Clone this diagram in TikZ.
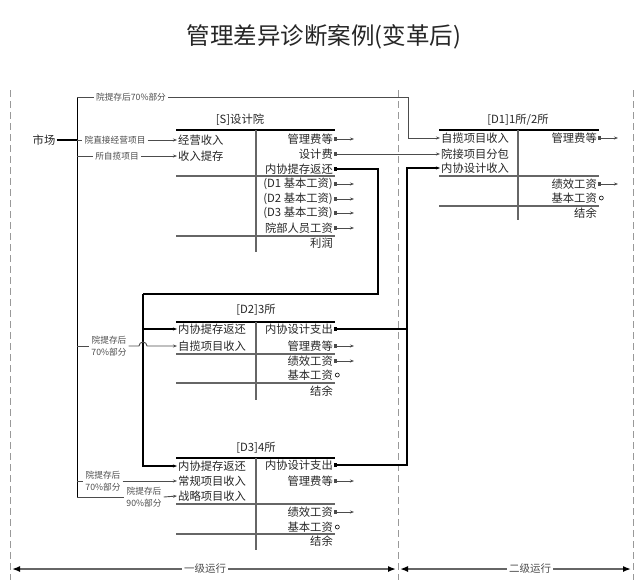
\documentclass[tikz,border=0pt]{standalone}
\usepackage{fontspec}
\setmainfont{Noto Sans CJK SC}
\usetikzlibrary{arrows.meta,positioning}

\begin{document}
\begin{tikzpicture}[x=1pt,y=-1pt,
    item/.style={font=\fontsize{11.3}{12}\selectfont, text=black!85, inner sep=1pt},
    lab/.style={font=\fontsize{8.7}{11.5}\selectfont, text=black!70, inner sep=2pt, align=center},
    toprule/.style={draw=black, line width=1.5pt},
    rule/.style={draw=black!60, line width=1.2pt},
    sep/.style={draw=black!40, line width=0.8pt, dash pattern=on 7pt off 4pt},
    link/.style={draw=black!70, line width=0.9pt},
    flow/.style={link, -{Stealth[length=4pt,width=3pt]}},
    outflow/.style={link, {Square[length=3pt,width=3.5pt]}-{Stealth[length=4pt,width=3pt]}},
    bus/.style={draw=black, line width=1.2pt},
    endmark/.style={circle, draw, inner sep=0pt, minimum size=4pt, line width=0.6pt},
    span/.style={draw=black!60, line width=1.5pt, {Latex[length=8pt,width=6pt,black]}-{Latex[length=8pt,width=6pt,black]}}]
    \useasboundingbox (0,0) rectangle (640,582);

    \node[font=\fontsize{23.5}{25}\selectfont, text=black!85] (title) at (324,37) {管理差异诊断案例(变革后)};

    % separators and levels
    \draw[sep] (10,90) -- (10,580);
    \draw[sep] (398,90) -- (398,580);
    \draw[sep] (633,90) -- (633,580);
    \draw[span] (12,569) -- (396,569);
    \draw[span] (400,569) -- (631,569);
    \node[lab, fill=white, font=\fontsize{10.5}{11}\selectfont] (lvlOne) at (205,569) {一级运行};
    \node[lab, fill=white, font=\fontsize{10.5}{11}\selectfont] (lvlTwo) at (530,569) {二级运行};

    % [S] box
    \node[item] (sTitle) at (240,120) {[S]设计院};
    \draw[toprule] (176,130) -- (335,130);
    \draw[rule] (176,176) -- (335,176);
    \draw[rule] (176,236) -- (335,236);
    \draw[rule] (256,130) -- (256,252);
    \node[item, anchor=west] (sIncome) at (177,140) {经营收入};
    \node[item, anchor=west] (sRetain) at (177,156) {收入提存};
    \node[item, anchor=east] (sFee) at (334,139) {管理费等};
    \node[item, anchor=east] (sDesign) at (334,154) {设计费};
    \node[item, anchor=east] (sReturn) at (334,169) {内协提存返还};
    \node[item, anchor=east] (sD1) at (334,184) {(D1 基本工资)};
    \node[item, anchor=east] (sD2) at (334,199) {(D2 基本工资)};
    \node[item, anchor=east] (sD3) at (334,213) {(D3 基本工资)};
    \node[item, anchor=east] (sStaff) at (334,228) {院部人员工资};
    \node[item, anchor=east] (sProfit) at (334,243) {利润};

    % [D1] box
    \node[item] (d1Title) at (518,120) {[D1]1所/2所};
    \draw[toprule] (439,130) -- (599,130);
    \draw[rule] (439,176) -- (599,176);
    \draw[rule] (439,206) -- (599,206);
    \draw[rule] (518,130) -- (518,220);
    \node[item, anchor=west] (d1Own) at (440,138) {自揽项目收入};
    \node[item, anchor=west] (d1Sub) at (440,154) {院接项目分包};
    \node[item, anchor=west] (d1In) at (440,168) {内协设计收入};
    \node[item, anchor=east] (d1Fee) at (598,138) {管理费等};
    \node[item, anchor=east] (d1Perf) at (598,184) {绩效工资};
    \node[item, anchor=east] (d1Basic) at (598,198) {基本工资};
    \node[item, anchor=east] (d1Rest) at (598,213) {结余};

    % [D2] box
    \node[item] (d2Title) at (256,310) {[D2]3所};
    \draw[toprule] (176,322) -- (335,322);
    \draw[rule] (176,354) -- (335,354);
    \draw[rule] (176,383) -- (335,383);
    \draw[rule] (256,322) -- (256,400);
    \node[item, anchor=west] (d2Return) at (177,329) {内协提存返还};
    \node[item, anchor=west] (d2Own) at (177,346) {自揽项目收入};
    \node[item, anchor=east] (d2Out) at (334,329) {内协设计支出};
    \node[item, anchor=east] (d2Fee) at (334,346) {管理费等};
    \node[item, anchor=east] (d2Perf) at (334,361) {绩效工资};
    \node[item, anchor=east] (d2Basic) at (334,375) {基本工资};
    \node[item, anchor=east] (d2Rest) at (334,391) {结余};

    % [D3] box
    \node[item] (d3Title) at (256,448) {[D3]4所};
    \draw[toprule] (176,458) -- (335,458);
    \draw[rule] (176,504) -- (335,504);
    \draw[rule] (176,534) -- (335,534);
    \draw[rule] (256,458) -- (256,550);
    \node[item, anchor=west] (d3Return) at (177,466) {内协提存返还};
    \node[item, anchor=west] (d3Regular) at (177,481) {常规项目收入};
    \node[item, anchor=west] (d3Strat) at (177,496) {战略项目收入};
    \node[item, anchor=east] (d3Out) at (334,465) {内协设计支出};
    \node[item, anchor=east] (d3Fee) at (334,481) {管理费等};
    \node[item, anchor=east] (d3Perf) at (334,512) {绩效工资};
    \node[item, anchor=east] (d3Basic) at (334,527) {基本工资};
    \node[item, anchor=east] (d3Rest) at (334,541) {结余};

    % market and trunk
    \node[item] (market) at (44,140) {市场};
    \coordinate (trunkTop) at (77,97);
    \coordinate (trunkMarket) at (77,140);
    \coordinate (trunkOwn) at (77,156);
    \coordinate (trunkD2) at (77,346);
    \coordinate (trunkD3) at (77,481);
    \coordinate (trunkBot) at (77,497);
    \coordinate (topTurn) at (408,97);
    \draw[draw=black, line width=0.9pt] (trunkTop) -- (trunkBot);
    \draw[line width=2pt] (market.east) -- (trunkMarket);

    \node[lab] (topLab) at (131,97) {院提存后70\%部分};
    \node[lab] (directLab) at (115,140) {院直接经营项目};
    \node[lab] (ownLab) at (117,156) {所自揽项目};
    \node[lab] (d2Lab) at (109,346) {院提存后\\70\%部分};
    \node[lab] (d3LabA) at (103,481) {院提存后\\70\%部分};
    \node[lab] (d3LabB) at (144,497) {院提存后\\90\%部分};

    \draw[link] (trunkTop) -- (topLab.west);
    \draw[flow] (topLab.east) -- (topTurn) |- (d1Own.west);
    \draw[link] (trunkMarket) -- (directLab.west);
    \draw[flow] (directLab.east) -- (sIncome.west);
    \draw[link] (trunkOwn) -- (ownLab.west);
    \draw[flow] (ownLab.east) -- (sRetain.west);
    \draw[link] (trunkD3) -- (d3LabA.west);
    \draw[flow] (d3LabA.east) -- (d3Regular.west);
    \draw[link] (trunkBot) -- (d3LabB.west);
    \draw[flow] (d3LabB.east) -- (d3Strat.west);

    % internal return from S to D2, D3
    \coordinate (retCorner) at (378,294);
    \coordinate (retBus) at (143,294);
    \draw[bus, {Square[length=3pt,width=3.5pt]}-] (sReturn.east) -| (retCorner) -- (retBus);
    \draw[bus, -{Stealth[length=4pt,width=3pt]}] (retBus) |- (d2Return.west);
    \draw[bus, -{Stealth[length=4pt,width=3pt]}] (retBus) |- (d3Return.west);

    % D2 branch hops over the bus
    \coordinate (hopL) at (139,346);
    \draw[link] (trunkD2) -- (d2Lab.west);
    \draw[flow] (d2Lab.east) -- (hopL) arc[start angle=180, end angle=360, radius=4] -- (d2Own.west);

    % internal design from D2, D3 to D1
    \coordinate (designTop) at (407,168);
    \draw[bus, {Square[length=3pt,width=3.5pt]}-{Stealth[length=4pt,width=3pt]}] (d2Out.east) -| (designTop) -- (d1In.west);
    \draw[bus, {Square[length=3pt,width=3.5pt]}-] (d3Out.east) -| (designTop);
    \draw[outflow] (sDesign.east) -- (d1Sub.west);

    % outflows
    \draw[outflow] (sFee.east) -- ++(20,0);
    \draw[outflow] (sD1.east) -- ++(20,0);
    \draw[outflow] (sD2.east) -- ++(20,0);
    \draw[outflow] (sD3.east) -- ++(20,0);
    \draw[outflow] (sStaff.east) -- ++(20,0);
    \draw[outflow] (d1Fee.east) -- ++(20,0);
    \draw[outflow] (d1Perf.east) -- ++(20,0);
    \draw[outflow] (d2Fee.east) -- ++(20,0);
    \draw[outflow] (d2Perf.east) -- ++(20,0);
    \draw[outflow] (d3Fee.east) -- ++(20,0);
    \draw[outflow] (d3Perf.east) -- ++(20,0);
    \node[endmark, right=1pt of d1Basic] (d1BasicEnd) {};
    \node[endmark, right=1pt of d2Basic] (d2BasicEnd) {};
    \node[endmark, right=1pt of d3Basic] (d3BasicEnd) {};

\end{tikzpicture}
\end{document}
